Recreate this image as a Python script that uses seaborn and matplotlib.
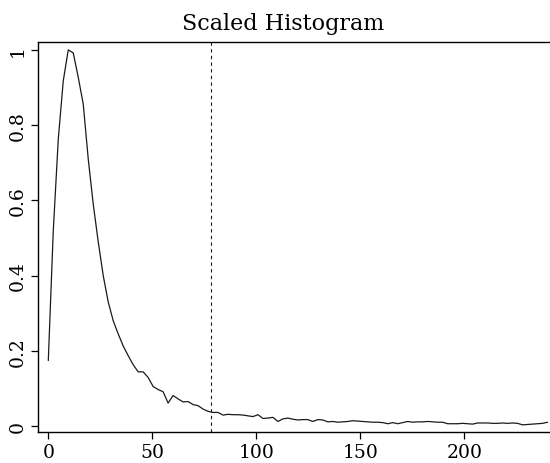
import numpy as np
import pandas as pd
import matplotlib
matplotlib.use("Agg")
import matplotlib.pyplot as plt
import seaborn as sns

# Bin centres (width 2.4) and histogram heights scaled to a peak of 1
bin_width = 2.4
scaled_counts = [
    0.174, 0.520, 0.763, 0.918, 1.000, 0.992, 0.927, 0.856, 0.710, 0.590,
    0.490, 0.400, 0.330, 0.280, 0.245, 0.213, 0.187, 0.163, 0.144, 0.144,
    0.129, 0.105, 0.097, 0.091, 0.061, 0.081, 0.072, 0.064, 0.065, 0.057,
    0.054, 0.045, 0.039, 0.036, 0.036, 0.029, 0.031, 0.030, 0.030, 0.029,
    0.027, 0.025, 0.030, 0.020, 0.021, 0.023, 0.012, 0.019, 0.021, 0.018,
    0.016, 0.017, 0.017, 0.012, 0.017, 0.016, 0.011, 0.012, 0.010, 0.011,
    0.012, 0.014, 0.013, 0.012, 0.011, 0.010, 0.010, 0.009, 0.006, 0.009,
    0.006, 0.009, 0.012, 0.010, 0.011, 0.011, 0.012, 0.011, 0.010, 0.010,
    0.006, 0.006, 0.006, 0.007, 0.006, 0.005, 0.008, 0.008, 0.008, 0.007,
    0.007, 0.008, 0.007, 0.008, 0.007, 0.003, 0.004, 0.005, 0.006, 0.007,
    0.010,
]
bin_centres = [round(bin_width * i, 1) for i in range(len(scaled_counts))]
threshold = 78

x_ticks = [0, 50, 100, 150, 200]
y_ticks = [0, 0.2, 0.4, 0.6, 0.8, 1]
y_tick_labels = ["0", "0.2", "0.4", "0.6", "0.8", "1"]

df = pd.DataFrame({"value": bin_centres, "scaled": scaled_counts})

sns.set_style("ticks")
plt.rcParams["font.family"] = ["DejaVu Serif"]
plt.rcParams["text.color"] = "black"
plt.rcParams["xtick.color"] = "black"
plt.rcParams["ytick.color"] = "black"

fig = plt.figure(figsize=(5.5, 4.64), dpi=100)
ax = fig.add_axes([0.0691, 0.0668, 0.9309, 0.8405])

sns.lineplot(data=df, x="value", y="scaled", ax=ax, color="#1a1a1a", linewidth=0.9)
ax.axvline(threshold, color="#1a1a1a", linewidth=0.8, linestyle=(0, (3, 3)))

ax.set_xlim(-4.95, 241.2)
ax.set_ylim(-0.016, 1.021)
ax.set_xticks(x_ticks)
ax.set_xticklabels([str(t) for t in x_ticks])
ax.set_yticks(y_ticks)
ax.set_yticklabels(y_tick_labels, rotation=90, va="center")
ax.tick_params(axis="both", direction="out", length=5, width=0.9,
               labelsize=13.5, color="black", labelcolor="black", pad=3)
ax.set_xlabel("")
ax.set_ylabel("")
fig.text(0.5155, 0.935, "Scaled Histogram", fontsize=16, color="black",
         ha="center", va="baseline")

for side in ["left", "bottom", "top"]:
    ax.spines[side].set_linewidth(1.0)
    ax.spines[side].set_color("black")
ax.spines["right"].set_visible(False)

fig.savefig("out.png", dpi=100)
